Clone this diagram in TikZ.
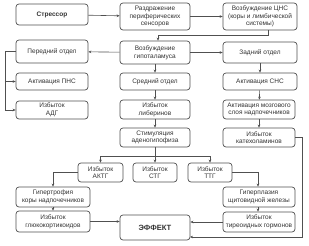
\documentclass[tikz,border=0pt]{standalone}
\usepackage{fontspec}
\setmainfont{Liberation Sans}
\usetikzlibrary{arrows.meta}
\definecolor{ink}{HTML}{333333}
\definecolor{edge}{HTML}{505050}
\tikzset{
  bx/.style={draw=edge, line width=0.7pt, rounded corners=3pt, fill=white,
    align=center, text=ink, inner sep=0pt,
    font=\fontsize{6.5}{7.6}\selectfont},
  conn/.style={draw=edge, line width=0.6pt},
  arr/.style={conn, -{Stealth[length=3pt,width=2.6pt]}}
}
\begin{document}
\begin{tikzpicture}[x=1pt,y=-1pt]
\useasboundingbox (0,0) rectangle (309,246);
% row 1
\node[bx, minimum width=72pt, minimum height=21pt] (stress) at (52,14.5) {\textbf{Стрессор}};
\node[bx, minimum width=70pt, minimum height=27pt] (razd) at (155,16.5) {Раздражение\\периферических\\сенсоров};
\node[bx, minimum width=74pt, minimum height=27pt] (cns) at (260,16.5) {Возбуждение ЦНС\\(коры и лимбической\\системы)};
% row 2
\node[bx, minimum width=72pt, minimum height=23pt] (pered) at (52,51.5) {Передний отдел};
\node[bx, minimum width=70pt, minimum height=23pt] (hypo) at (155,52.5) {Возбуждение\\гипоталамуса};
\node[bx, minimum width=74pt, minimum height=21pt] (zad) at (260,52.5) {Задний отдел};
% left column
\node[bx, minimum width=72pt, minimum height=17pt] (pns) at (52,81.5) {Активация ПНС};
\node[bx, minimum width=72pt, minimum height=18pt] (adg) at (52,110) {Избыток\\АДГ};
% middle column
\node[bx, minimum width=70pt, minimum height=17pt] (sred) at (155,81.5) {Средний отдел};
\node[bx, minimum width=70pt, minimum height=19pt] (liber) at (155,109.5) {Избыток\\либеринов};
\node[bx, minimum width=70pt, minimum height=19pt] (stim) at (155,137.5) {Стимуляция\\аденогипофиза};
% right column
\node[bx, minimum width=74pt, minimum height=17pt] (sns) at (260,81.5) {Активация СНС};
\node[bx, minimum width=72pt, minimum height=19pt] (mozg) at (259,109.5) {Активация мозгового\\слоя надпочечников};
\node[bx, minimum width=72pt, minimum height=19pt] (kat) at (259,137.5) {Избыток\\катехоламинов};
% hormones
\node[bx, minimum width=45pt, minimum height=19pt] (aktg) at (100.5,172.5) {Избыток\\АКТГ};
\node[bx, minimum width=44pt, minimum height=19pt] (stg) at (155,172.5) {Избыток\\СТГ};
\node[bx, minimum width=44pt, minimum height=19pt] (ttg) at (210,172.5) {Избыток\\ТТГ};
% bottom
\node[bx, minimum width=74pt, minimum height=20pt] (gipertr) at (53,197) {Гипертрофия\\коры надпочечников};
\node[bx, minimum width=74pt, minimum height=21pt] (gluko) at (53,221.5) {Избыток\\глюкокортикоидов};
\node[bx, minimum width=70pt, minimum height=25pt, font=\fontsize{7.6}{8.6}\selectfont] (effect) at (155,227.5) {\textbf{ЭФФЕКТ}};
\node[bx, minimum width=72pt, minimum height=20pt] (gipers) at (259,197) {Гиперплазия\\щитовидной железы};
\node[bx, minimum width=72pt, minimum height=20pt] (tireo) at (259,222) {Избыток\\тиреоидных гормонов};
% coordinates
\coordinate (lbus) at (5,51.5);
\coordinate (cnsturn) at (268,35);
\coordinate (stimbus) at (155,156);
\coordinate (aktgturn) at (53,172.5);
\coordinate (ttgturn) at (258,172.5);
\coordinate (katturn) at (302,137.5);
\coordinate (effin) at (190,237);
% connectors
\draw[arr] (stress) -- (razd);
\draw[arr] (razd) -- (cns);
\draw[arr] (cns.south -| cnsturn) -- (cnsturn) -| ([xshift=3pt]hypo.north);
\draw[arr] (hypo) -- (pered);
\draw[arr] (hypo) -- (zad);
\draw[conn] (pered.west) -- (lbus) -- (lbus |- adg.west);
\draw[arr] (lbus |- pns.west) -- (pns.west);
\draw[arr] (lbus |- adg.west) -- (adg.west);
\draw[arr] (hypo) -- (sred);
\draw[arr] (sred) -- (liber);
\draw[arr] (liber) -- (stim);
\draw[arr] (zad) -- (sns);
\draw[arr] (sns) -- (mozg);
\draw[arr] (mozg) -- (kat);
\draw[conn] (stim.south) -- (stimbus);
\draw[arr] (stimbus) -| (aktg.north);
\draw[arr] (stimbus) -| (ttg.north);
\draw[arr] (stimbus) -- (stg.north);
\draw[arr] (aktg.west) -- (aktgturn) -- (aktgturn |- gipertr.north);
\draw[arr] (gipertr) -- (gluko);
\draw[arr] (gluko.east) -- (effect.west |- gluko.east);
\draw[arr] (ttg.east) -- (ttgturn) -- (ttgturn |- gipers.north);
\draw[arr] (gipers.south -| ttgturn) -- (tireo.north -| ttgturn);
\draw[arr] (tireo.west) -- (effect.east |- tireo.west);
\draw[arr] (kat.east) -- (katturn) |- (effin);
\end{tikzpicture}
\end{document}
